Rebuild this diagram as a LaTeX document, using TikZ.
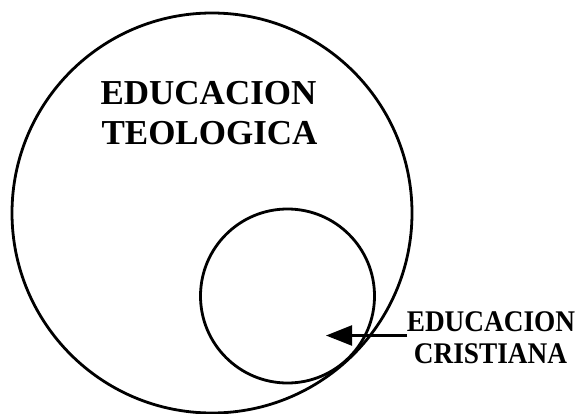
\documentclass[tikz,border=0pt]{standalone}
\usepackage{fontspec}
\usepackage{graphicx}
\setmainfont{Liberation Serif}
\usetikzlibrary{arrows.meta}
\begin{document}
\begin{tikzpicture}[x=1pt,y=-1pt,
  ring/.style={circle,draw,line width=2.8pt,inner sep=0pt,outer sep=0pt},
  bigtxt/.style={font=\fontsize{35}{40}\selectfont\bfseries,inner sep=0pt,anchor=base},
  smalltxt/.style={font=\fontsize{30}{32}\selectfont\bfseries,inner sep=0pt,anchor=base},
  pointer/.style={line width=2.4pt,-{Triangle[length=26pt,width=20pt]}}]
\useasboundingbox (0,0) rectangle (577,414);
\node[ring,minimum size=400pt] (big) at (212,213) {};
\node[ring,minimum size=174pt] (small) at (287.5,296) {};
\node[bigtxt] (et1) at (208.5,105) {EDUCACION};
\node[bigtxt] (et2) at (209.5,145) {TEOLOGICA};
\node[smalltxt] (ec1) at (491,331) {\scalebox{0.91}[1]{EDUCACION}};
\node[smalltxt] (ec2) at (490.5,363) {\scalebox{0.91}[1]{CRISTIANA}};
\coordinate (astart) at (407,335.5);
\coordinate (atip) at (326,335.5);
\draw[pointer] (astart) -- (atip);
\end{tikzpicture}
\end{document}
